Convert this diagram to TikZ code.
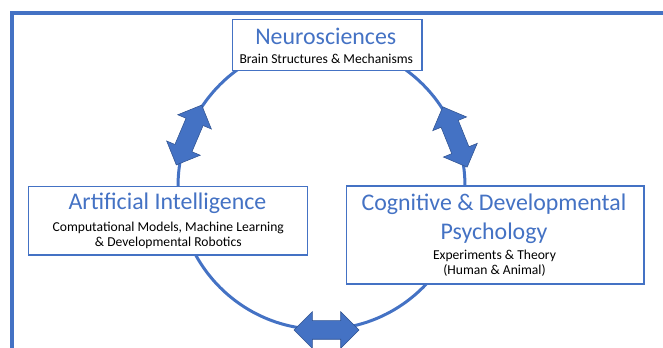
\documentclass[tikz,border=0pt]{standalone}
\usepackage{fontspec}
\setmainfont{Carlito}
\usetikzlibrary{shapes.arrows}
\definecolor{officeblue}{HTML}{4472C4}
\definecolor{darkblue}{HTML}{2F528F}

\begin{document}
\begin{tikzpicture}[x=0.75pt, y=-0.75pt,
  box/.style={draw=officeblue, line width=1.1pt, fill=white, inner sep=0pt},
  title/.style={anchor=base, text=officeblue, align=center, inner sep=0pt, font=\fontsize{17.9}{21.75}\selectfont},
  subtitle/.style={anchor=base, align=center, inner sep=0pt, font=\fontsize{10.2}{11.6}\selectfont},
  link/.style={double arrow, fill=officeblue, draw=darkblue, line width=0.4pt, inner xsep=0pt, inner ysep=6.75pt, minimum height=48.75pt, double arrow head extend=6.75pt}]
\clip (0,0) rectangle (663,348);
\useasboundingbox (0,0) rectangle (663,348);
\draw[officeblue, line width=3pt] (700,12.8) -- (11.7,12.8) -- (11.7,400);
\draw[officeblue, line width=2.25pt] (321.5,186) circle[radius=107.6pt];
\node[box, minimum width=142.3pt, minimum height=38.5pt] (ns) at (327.2,45) {};
\node[box, minimum width=209.5pt, minimum height=51.2pt] (ai) at (168,220.8) {};
\node[box, minimum width=223pt, minimum height=73.5pt] (cog) at (495.3,235) {};
\node[title] (nstitle) at (325.8,45) {Neurosciences};
\node[subtitle] (nssub) at (326.3,64) {Brain Structures \& Mechanisms};
\node[title] (aititle) at (167.5,210) {Artificial Intelligence};
\node[subtitle] (aisub) at (168.3,246.7) {Computational Models, Machine Learning\\ \& Developmental Robotics};
\node[title] (cogtitle) at (494,240) {Cognitive \& Developmental\\ Psychology};
\node[subtitle] (cogsub) at (494.5,275) {Experiments \& Theory\\ (Human \& Animal)};
\node[link, rotate=67] (nsai) at (189,135) {};
\node[link, rotate=112] (nscog) at (455,137) {};
\node[link] (aicog) at (326.5,330) {};
\end{tikzpicture}
\end{document}
